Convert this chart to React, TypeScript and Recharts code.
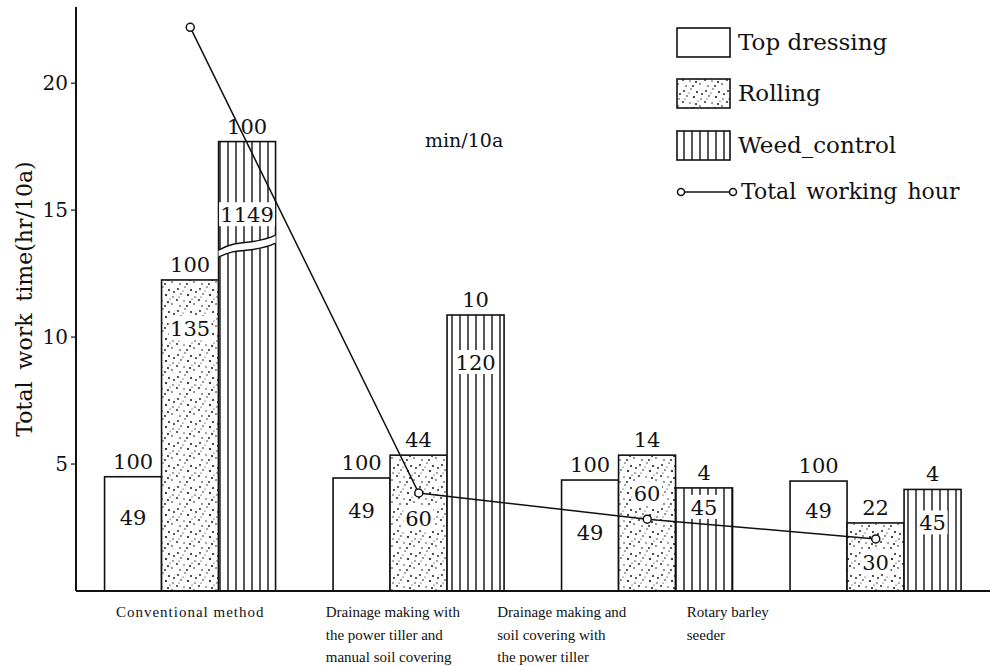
import React from "react";
import { Bar, ComposedChart, Line, XAxis, YAxis } from "recharts";

const FONT = "'DejaVu Serif', serif";
const SMALL_FONT = "'Liberation Serif', serif";
const INK = "#111";

// categories, one line of the x label per entry
const categories = [
  ["Conventional method"],
  ["Drainage making with", "the power tiller and", "manual soil covering"],
  ["Drainage making and", "soil covering with", "the power tiller"],
  ["Rotary barley", "seeder"],
];

// bar heights, hr/10a
const topDressing = [4.5, 4.45, 4.37, 4.33];
const rolling = [12.25, 5.35, 5.35, 2.68];
const weedControl = [17.7, 10.87, 4.06, 4.0];
// line, hr/10a
const totalHours = [22.2, 3.86, 2.83, 2.05];

// numbers printed above and inside each bar
const topDressingTop = ["100", "100", "100", "100"];
const topDressingIn = ["49", "49", "49", "49"];
const rollingTop = ["100", "44", "14", "22"];
const rollingIn = ["135", "60", "60", "30"];
const weedTop = ["100", "10", "4", "4"];
const weedIn = ["1149", "120", "45", "45"];
// scale break drawn across the bar at this value
const weedBreakAt = [13.5, null, null, null];

const yTicks = [5, 10, 15, 20];

// layout only: x label block (null = centred, else left edge from band centre)
const TICK_LEFT = [null, -93, -150, -189];
// layout only: how far below a bar's top its inside number sits (px)
const IN_DY_TD = [40, 32, 52, 29];
const IN_DY_ROLL = [48, 63, 38, 39];
const IN_DY_WEED = [0, 47, 19, 33];

const rows = categories.map((c, i) => ({
  name: c.join("\n"),
  topDressing: topDressing[i],
  rolling: rolling[i],
  weedControl: weedControl[i],
  total: totalHours[i],
}));

const DOTS = [
  [2, 3, 0.9], [9, 1, 0.7], [15, 4, 1.0], [5, 8, 0.8], [12, 9, 1.1], [19, 11, 0.7],
  [1, 14, 0.9], [8, 15, 0.7], [14, 16, 1.0], [4, 20, 0.8], [11, 20, 0.9], [18, 18, 0.8],
  [7, 5, 0.6], [20, 6, 0.9], [16, 13, 0.6], [3, 11, 0.6],
];

const txt = (size: number, extra: React.CSSProperties = {}): React.CSSProperties => ({
  fontFamily: FONT,
  fontSize: size,
  fill: INK,
  ...extra,
});

function Patterns({ suffix }: { suffix: string }) {
  return (
    <defs>
      <pattern id={`dots${suffix}`} patternUnits="userSpaceOnUse" width={22} height={22}>
        <rect width={22} height={22} fill="#fff" />
        {DOTS.map(([cx, cy, r], i) => (
          <circle key={i} cx={cx} cy={cy} r={r} fill={INK} />
        ))}
      </pattern>
      <pattern id={`stripes${suffix}`} patternUnits="userSpaceOnUse" width={8} height={8}>
        <rect width={8} height={8} fill="#fff" />
        <line x1={4} y1={0} x2={4} y2={8} stroke={INK} strokeWidth={1.4} />
      </pattern>
    </defs>
  );
}

function makeShape(
  fill: string,
  values: number[],
  tops: string[],
  ins: string[],
  inDy: number[],
  boxed: boolean,
  breaks?: (number | null)[]
) {
  return (props: any) => {
    const { x, y, width, height, index } = props;
    const cx = x + width / 2;
    const perUnit = height / values[index];
    const brk = breaks ? breaks[index] : null;
    const breakY = brk != null ? y + height - brk * perUnit : null;
    let labelY = y + inDy[index];
    if (breakY != null) labelY = breakY - 34;
    const text = ins[index];
    const boxW = text.length * 13 + 4;
    return (
      <g>
        <rect x={x} y={y} width={width} height={height} fill={fill} stroke={INK} strokeWidth={1.6} />
        {breakY != null && (
          <g>
            <path
              d={`M${x},${breakY + 9} C${x + width * 0.35},${breakY - 2} ${x + width * 0.6},${breakY + 6} ${x + width},${breakY - 5}
                 L${x + width},${breakY - 13} C${x + width * 0.6},${breakY - 2} ${x + width * 0.35},${breakY - 10} ${x},${breakY + 2} Z`}
              fill="#fff"
              stroke="none"
            />
            <path
              d={`M${x},${breakY + 9} C${x + width * 0.35},${breakY - 2} ${x + width * 0.6},${breakY + 6} ${x + width},${breakY - 5}`}
              fill="none"
              stroke={INK}
              strokeWidth={1.4}
            />
            <path
              d={`M${x},${breakY + 2} C${x + width * 0.35},${breakY - 10} ${x + width * 0.6},${breakY - 2} ${x + width},${breakY - 13}`}
              fill="none"
              stroke={INK}
              strokeWidth={1.4}
            />
          </g>
        )}
        {boxed && (
          <rect x={cx - boxW / 2} y={labelY - 12} width={boxW} height={24} fill="#fff" />
        )}
        <text x={cx} y={labelY + 8} textAnchor="middle" style={txt(21)}>
          {text}
        </text>
        <text x={cx} y={y - 8} textAnchor="middle" style={txt(21)}>
          {tops[index]}
        </text>
      </g>
    );
  };
}

function CategoryTick(props: any) {
  const { x, y, payload, index } = props;
  const lines = String(payload.value).split("\n");
  const shift = TICK_LEFT[index];
  const left = shift == null ? x : x + shift;
  return (
    <g>
      {lines.map((l, i) => (
        <text
          key={i}
          x={left}
          y={y + 26 + i * 22.5}
          textAnchor={shift == null ? "middle" : "start"}
          style={txt(15, { fontFamily: SMALL_FONT, letterSpacing: shift == null ? 1 : 0 })}
        >
          {l}
        </text>
      ))}
    </g>
  );
}

const legendBoxes = [
  { label: "Top dressing", fill: "#fff", y: 28 },
  { label: "Rolling", fill: "url(#dotsL)", y: 79 },
  { label: "Weed_control", fill: "url(#stripesL)", y: 131 },
];

export default function App() {
  return (
    <div
      style={{
        position: "absolute",
        left: 0,
        top: 0,
        width: 994,
        height: 666,
        background: "#fff",
        fontFamily: FONT,
      }}
    >
      <ComposedChart
        width={994}
        height={666}
        data={rows}
        margin={{ top: 7, right: 4, bottom: 15, left: 0 }}
        barCategoryGap="12.5%"
        barGap={0}
        style={{ fontFamily: FONT }}
      >
        <Patterns suffix="" />
        <XAxis
          dataKey="name"
          height={60}
          interval={0}
          axisLine={{ stroke: INK, strokeWidth: 2 }}
          tickLine={false}
          tickSize={0}
          tickMargin={0}
          tick={<CategoryTick />}
        />
        <YAxis
          domain={[0, 23]}
          ticks={yTicks}
          width={76}
          axisLine={{ stroke: INK, strokeWidth: 2 }}
          tickLine={{ stroke: INK, strokeWidth: 1.2 }}
          tickSize={5}
          tickMargin={3}
          tick={{ fill: INK, fontSize: 20, fontFamily: FONT, style: { fontFamily: FONT } }}
          label={{
            value: "Total work time(hr/10a)",
            angle: -90,
            position: "insideLeft",
            offset: 24,
            style: {
              textAnchor: "middle",
              fontSize: 22,
              fontFamily: FONT,
              fill: INK,
              wordSpacing: 5,
            },
          }}
        />
        <Bar
          dataKey="topDressing"
          name="Top dressing"
          isAnimationActive={false}
          shape={makeShape("#fff", topDressing, topDressingTop, topDressingIn, IN_DY_TD, false)}
        />
        <Bar
          dataKey="rolling"
          name="Rolling"
          isAnimationActive={false}
          shape={makeShape("url(#dots)", rolling, rollingTop, rollingIn, IN_DY_ROLL, true)}
        />
        <Bar
          dataKey="weedControl"
          name="Weed_control"
          isAnimationActive={false}
          shape={makeShape("url(#stripes)", weedControl, weedTop, weedIn, IN_DY_WEED, true, weedBreakAt)}
        />
        <Line
          dataKey="total"
          name="Total working hour"
          type="linear"
          stroke={INK}
          strokeWidth={1.5}
          dot={{ r: 4, stroke: INK, strokeWidth: 1.5, fill: "#fff" }}
          isAnimationActive={false}
        />
      </ComposedChart>

      <svg
        width={994}
        height={666}
        style={{ position: "absolute", left: 0, top: 0, pointerEvents: "none" }}
      >
        <Patterns suffix="L" />
        {legendBoxes.map((b) => (
          <g key={b.label}>
            <rect x={677} y={b.y} width={53} height={29} fill={b.fill} stroke={INK} strokeWidth={1.6} />
            <text x={738} y={b.y + 22} style={txt(23)}>
              {b.label}
            </text>
          </g>
        ))}
        <line x1={681} y1={192} x2={733} y2={192} stroke={INK} strokeWidth={1.5} />
        <circle cx={681} cy={192} r={3.5} fill="#fff" stroke={INK} strokeWidth={1.5} />
        <circle cx={733} cy={192} r={3.5} fill="#fff" stroke={INK} strokeWidth={1.5} />
        <text x={741} y={199} style={txt(22, { wordSpacing: 3 })}>
          Total working hour
        </text>
        <text x={425} y={147} style={txt(19)}>
          min/10a
        </text>
      </svg>
    </div>
  );
}
